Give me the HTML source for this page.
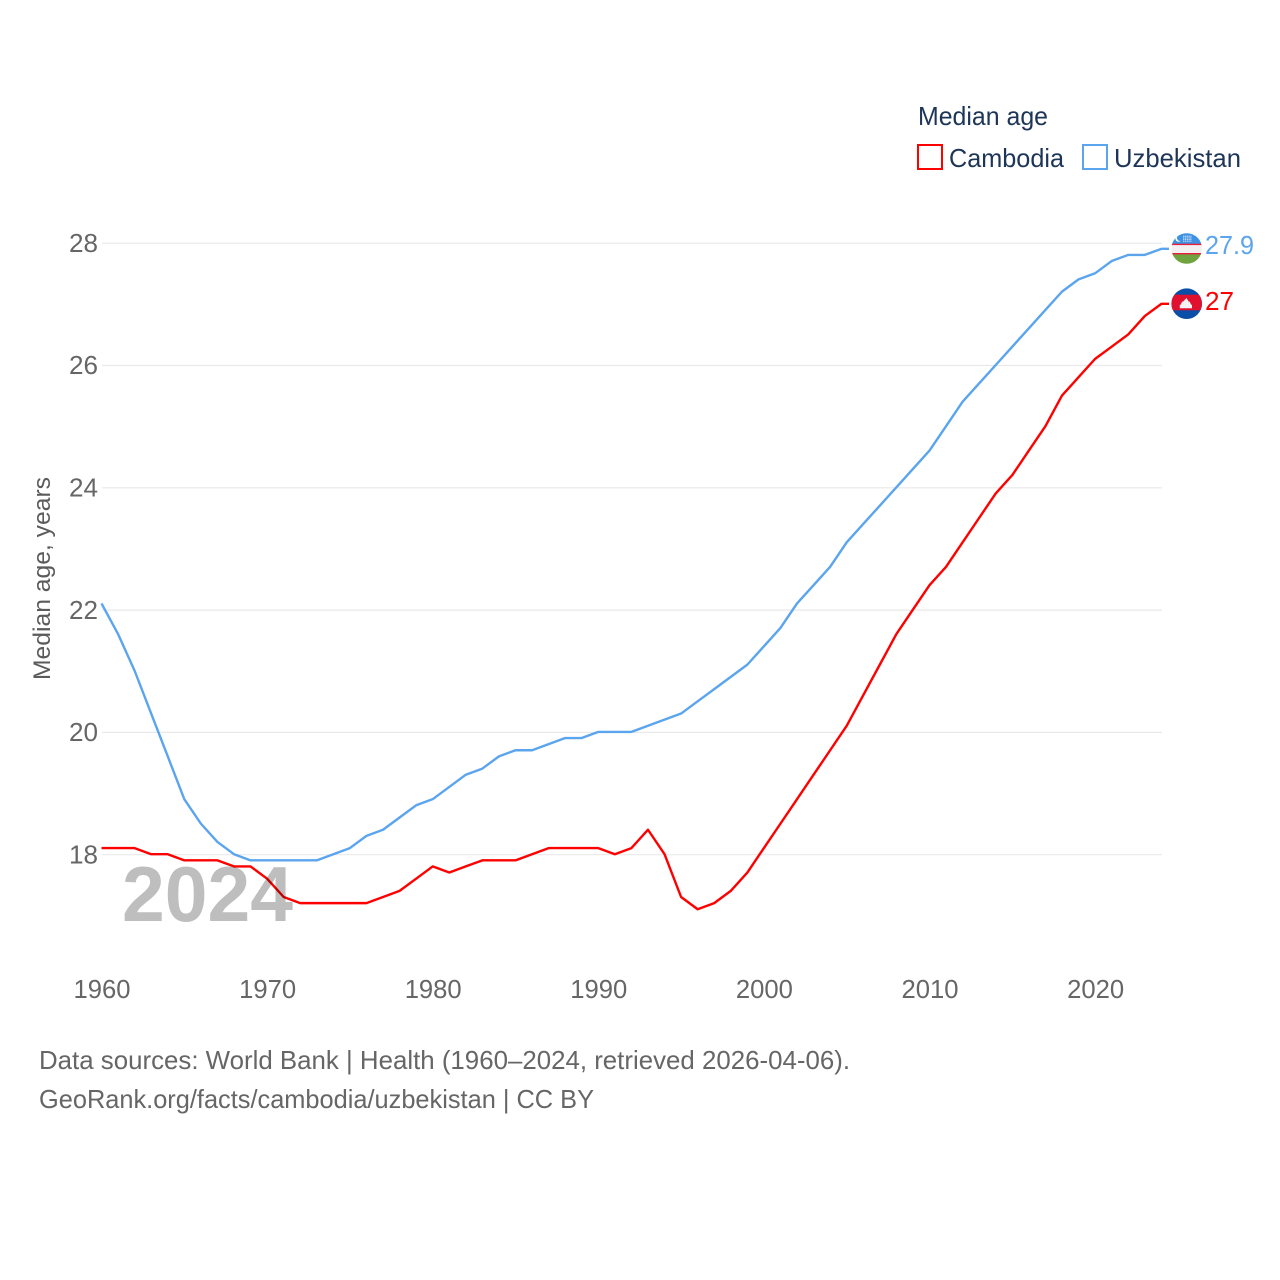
<!DOCTYPE html>
<html lang="en">
<head>
<meta charset="utf-8">
<title>Median age: Cambodia and Uzbekistan</title>
<style>
html,body{margin:0;padding:0;background:#fff;}
svg{display:block;}
text{font-family:"Liberation Sans",sans-serif;}
</style>
</head>
<body>
<svg id="chart" width="1280" height="1280" viewBox="0 0 1280 1280" xmlns="http://www.w3.org/2000/svg">
  <rect width="1280" height="1280" fill="#fff"/>
  <g id="grid"></g>
  <g id="yticks"></g>
  <g id="xticks"></g>
  <text transform="translate(50,680) rotate(-90)" font-size="24" fill="#5b5b5b" textLength="203" lengthAdjust="spacingAndGlyphs">Median age, years</text>
  <g id="series"></g>
  <text x="122" y="921" font-size="78" font-weight="700" fill="#bebebe" style="mix-blend-mode:multiply" textLength="171" lengthAdjust="spacingAndGlyphs">2024</text>

  <g>
    <text x="918" y="125" font-size="26" fill="#1d3557" textLength="130" lengthAdjust="spacingAndGlyphs">Median age</text>
    <g>
      <rect x="918" y="145" width="24" height="24" fill="#fff" stroke="#ff0000" stroke-width="2"/>
      <text x="949" y="167" font-size="26" fill="#1d3557" textLength="115" lengthAdjust="spacingAndGlyphs">Cambodia</text>
    </g>
    <g>
      <rect x="1083" y="145" width="24" height="24" fill="#fff" stroke="#5ba4ee" stroke-width="2"/>
      <text x="1114" y="167" font-size="26" fill="#1d3557" textLength="127" lengthAdjust="spacingAndGlyphs">Uzbekistan</text>
    </g>
  </g>

  <defs>
    <clipPath id="clip-uz"><circle cx="1186.7" cy="248.5" r="15.3"/></clipPath>
    <clipPath id="clip-kh"><circle cx="1186.7" cy="303.7" r="15.3"/></clipPath>
    <pattern id="uz-stars" x="1183" y="235.5" width="1.8" height="1.8" patternUnits="userSpaceOnUse">
      <circle cx="0.7" cy="0.7" r="0.55" fill="#fff"/>
    </pattern>
  </defs>
  <g clip-path="url(#clip-uz)">
    <rect x="1171" y="233" width="32" height="11" fill="#3f92e2"/>
    <rect x="1171" y="244" width="32" height="10" fill="#f2f0f0"/>
    <rect x="1171" y="254" width="32" height="11" fill="#6ea33f"/>
    <rect x="1171" y="243.7" width="32" height="1.4" fill="#e8203c"/>
    <rect x="1171" y="253" width="32" height="1.4" fill="#e8203c"/>
    <circle cx="1178.5" cy="238.5" r="3.2" fill="#fff"/>
    <circle cx="1180" cy="238" r="3" fill="#3f92e2"/>
    <rect x="1183" y="235.5" width="9" height="6.3" fill="url(#uz-stars)"/>
  </g>
  <g clip-path="url(#clip-kh)">
    <rect x="1171" y="288" width="32" height="32" fill="#0b4ea8"/>
    <rect x="1171" y="294.7" width="32" height="15.6" fill="#e0102f"/>
    <path d="M1186.5 298l2.2 3.6h1l1.4 3.2h.9v3.5h-12.2v-3.5h.9l1.4-3.2h1z" fill="#f2f2f2"/>
  </g>
  <text x="1205" y="254" font-size="26" fill="#5ba4ee" textLength="49" lengthAdjust="spacingAndGlyphs">27.9</text>
  <text x="1205" y="310" font-size="26" fill="#ff0000" textLength="29" lengthAdjust="spacingAndGlyphs">27</text>

  <g>
    <text x="39" y="1069" font-size="26" fill="#666" textLength="811" lengthAdjust="spacingAndGlyphs">Data sources: World Bank | Health (1960–2024, retrieved 2026-04-06).</text>
    <text x="39" y="1108" font-size="26" fill="#666" textLength="555" lengthAdjust="spacingAndGlyphs">GeoRank.org/facts/cambodia/uzbekistan | CC BY</text>
  </g>
</svg>
<script>
const years = [1960,1961,1962,1963,1964,1965,1966,1967,1968,1969,1970,1971,1972,1973,1974,1975,1976,1977,1978,1979,1980,1981,1982,1983,1984,1985,1986,1987,1988,1989,1990,1991,1992,1993,1994,1995,1996,1997,1998,1999,2000,2001,2002,2003,2004,2005,2006,2007,2008,2009,2010,2011,2012,2013,2014,2015,2016,2017,2018,2019,2020,2021,2022,2023,2024];
const cambodia = [18.1,18.1,18.1,18.0,18.0,17.9,17.9,17.9,17.8,17.8,17.6,17.3,17.2,17.2,17.2,17.2,17.2,17.3,17.4,17.6,17.8,17.7,17.8,17.9,17.9,17.9,18.0,18.1,18.1,18.1,18.1,18.0,18.1,18.4,18.0,17.3,17.1,17.2,17.4,17.7,18.1,18.5,18.9,19.3,19.7,20.1,20.6,21.1,21.6,22.0,22.4,22.7,23.1,23.5,23.9,24.2,24.6,25.0,25.5,25.8,26.1,26.3,26.5,26.8,27.0];
const uzbekistan = [22.1,21.6,21.0,20.3,19.6,18.9,18.5,18.2,18.0,17.9,17.9,17.9,17.9,17.9,18.0,18.1,18.3,18.4,18.6,18.8,18.9,19.1,19.3,19.4,19.6,19.7,19.7,19.8,19.9,19.9,20.0,20.0,20.0,20.1,20.2,20.3,20.5,20.7,20.9,21.1,21.4,21.7,22.1,22.4,22.7,23.1,23.4,23.7,24.0,24.3,24.6,25.0,25.4,25.7,26.0,26.3,26.6,26.9,27.2,27.4,27.5,27.7,27.8,27.8,27.9];
const yTickValues = [18,20,22,24,26,28];
const xTickValues = [1960,1970,1980,1990,2000,2010,2020];

const SVG_NS = 'http://www.w3.org/2000/svg';
function xScale(year){ return 101.5 + (year - 1960) * 16.56; }
function yScale(age){ return 854.2 - (age - 18) * 61.15; }
function make(tag, attrs, parent){
  const el = document.createElementNS(SVG_NS, tag);
  for (const k in attrs) el.setAttribute(k, attrs[k]);
  parent.appendChild(el);
  return el;
}

const gridGroup = document.getElementById('grid');
const yGroup = document.getElementById('yticks');
const xGroup = document.getElementById('xticks');
const seriesGroup = document.getElementById('series');

yTickValues.forEach(function(v){
  const line = make('line', {x1:102, x2:1162, y1:yScale(v) + 0.5, y2:yScale(v) + 0.5, stroke:'#e9e9e9', 'stroke-width':1.2}, gridGroup);
  
  
  const label = make('text', {x:98, y:yScale(v) + 9.2, 'text-anchor':'end', 'font-size':26, fill:'#666', textLength:29, lengthAdjust:'spacingAndGlyphs'}, yGroup);
  
  
  label.textContent = v;
});

xTickValues.forEach(function(v){
  const label = make('text', {x:xScale(v) + 0.5, y:998, 'text-anchor':'middle', 'font-size':26, fill:'#666', textLength:57, lengthAdjust:'spacingAndGlyphs'}, xGroup);
  
  
  label.textContent = v;
});

function drawSeries(values, color, name){
  const pts = values.map(function(v, i){ return xScale(years[i]).toFixed(2) + ',' + yScale(v).toFixed(2); });
  const last = values[values.length - 1];
  pts.push('1169,' + yScale(last).toFixed(2));
  const line = make('polyline', {points:pts.join(' '), fill:'none', stroke:color, 'stroke-width':2.4, 'stroke-linejoin':'round'}, seriesGroup);
  
  
}
drawSeries(uzbekistan, '#5ba4ee', 'uzbekistan');
drawSeries(cambodia, '#ff0000', 'cambodia');
</script>
</body>
</html>
